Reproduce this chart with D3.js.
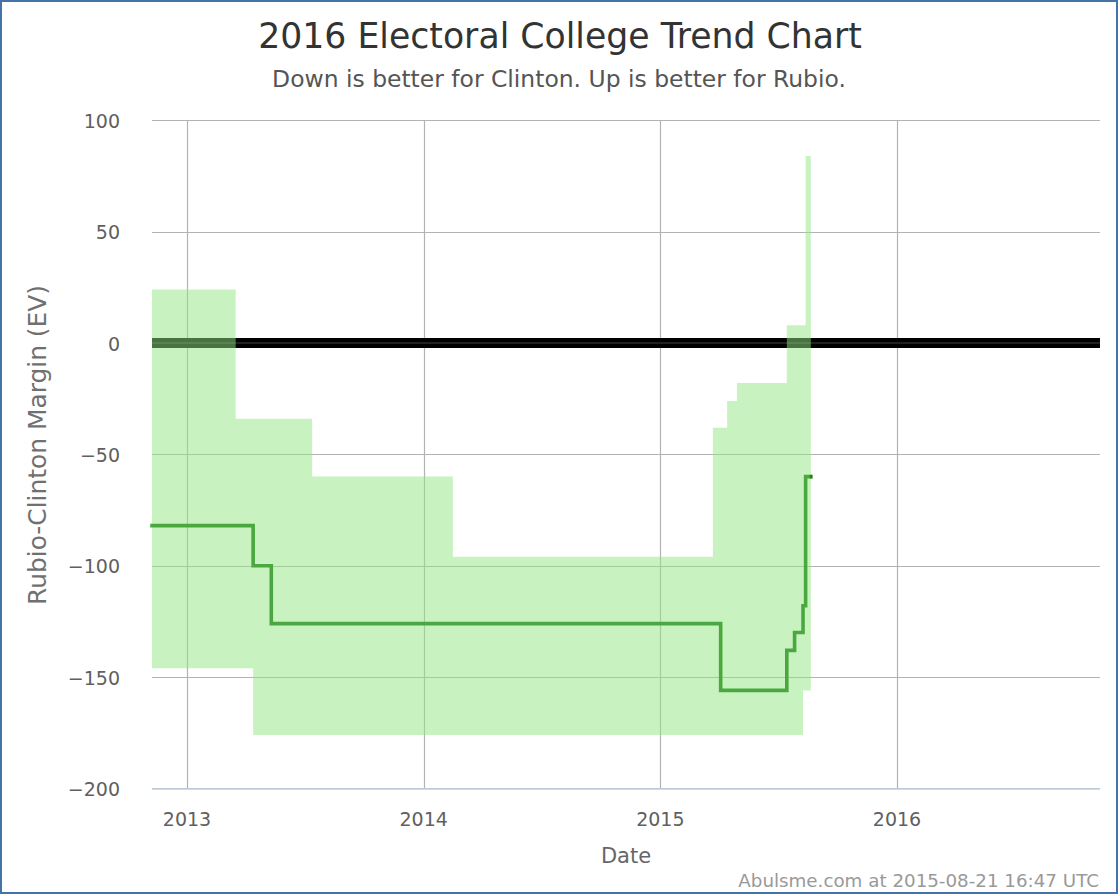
<!DOCTYPE html>
<html>
<head>
<meta charset="utf-8">
<script src="https://cdn.jsdelivr.net/npm/d3@7"></script>
<style>
  html, body { margin: 0; padding: 0; background: #fff; }
  svg { display: block; font-family: "DejaVu Sans", "Lucida Grande", sans-serif; }
</style>
</head>
<body>
<svg id="chart" width="1120" height="896"></svg>
<script>
// ---- data ----
const dates  = ["2012-11-08","2013-03-17","2013-04-13","2013-05-11","2013-07-13","2014-02-15",
                "2015-03-23","2015-04-04","2015-04-14","2015-04-29","2015-07-15","2015-07-27",
                "2015-08-09","2015-08-13","2015-08-21"];
const upper  = [24, -34, -34, -34, -60, -96, -38, -38, -26, -18, 8, 8, 8, 84, 84];
const lower  = [-146, -146, -176, -176, -176, -176, -176, -176, -176, -176, -176, -176, -156, -156, -156];
const margin = [-82, -82, -100, -126, -126, -126, -126, -156, -156, -156, -138, -130, -118, -60, -60];
const yTicks = [-200, -150, -100, -50, 0, 50, 100];
const xTicks = ["2013-01-01", "2014-01-01", "2015-01-01", "2016-01-01"];
const xTickLabels = ["2013", "2014", "2015", "2016"];
const xDomain = ["2012-11-08", "2016-11-09"];
const yDomain = [-200, 100];

const titleText = "2016 Electoral College Trend Chart";
const subtitleText = "Down is better for Clinton. Up is better for Rubio.";
const yTitleText = "Rubio-Clinton Margin (EV)";
const xTitleText = "Date";
const creditText = "Abulsme.com at 2015-08-21 16:47 UTC";

// ---- setup ----
const parse = d3.utcParse("%Y-%m-%d");
const svg = d3.select("#chart");
const plot = { left: 152, right: 1100, top: 120.3, bottom: 788.4 };

const x = d3.scaleUtc().domain(xDomain.map(parse)).range([plot.left, plot.right]);
const y = d3.scaleLinear().domain(yDomain).range([plot.bottom, plot.top]);

const rows = dates.map((d, i) => ({ date: parse(d), hi: upper[i], lo: lower[i], m: margin[i] }));

function fitText(sel, width) {
  const n = sel.node();
  const fs = parseFloat(sel.attr("font-size"));
  const w = n.getComputedTextLength();
  sel.attr("font-size", (fs * width / w).toFixed(2));
}

// border
svg.append("rect").attr("x", 1).attr("y", 1).attr("width", 1116).attr("height", 892)
  .attr("fill", "#fff").attr("stroke", "#4572a7").attr("stroke-width", 2);

// gridlines
const grid = svg.append("g");
grid.selectAll("line.h").data(yTicks).join("line")
  .attr("x1", plot.left).attr("x2", plot.right)
  .attr("y1", d => Math.round(y(d)) + 0.5).attr("y2", d => Math.round(y(d)) + 0.5)
  .attr("stroke", "#b3b3b3").attr("stroke-width", 1.2);
grid.selectAll("line.v").data(xTicks.map(parse)).join("line")
  .attr("y1", plot.top).attr("y2", plot.bottom)
  .attr("x1", d => Math.round(x(d)) + 0.5).attr("x2", d => Math.round(x(d)) + 0.5)
  .attr("stroke", "#b3b3b3").attr("stroke-width", 1.2);

// x axis line
svg.append("line").attr("x1", plot.left).attr("x2", plot.right)
  .attr("y1", y(-200) + 0.5).attr("y2", y(-200) + 0.5)
  .attr("stroke", "#c0d0e0").attr("stroke-width", 1.5);

// zero line
svg.append("line").attr("x1", plot.left).attr("x2", plot.right)
  .attr("y1", y(0)).attr("y2", y(0)).attr("stroke", "#000").attr("stroke-width", 10);
svg.append("line").attr("x1", plot.left).attr("x2", plot.right)
  .attr("y1", y(0)).attr("y2", y(0)).attr("stroke", "#2c2c2c").attr("stroke-width", 1.5);

// band
const area = d3.area().curve(d3.curveStepAfter)
  .x(d => x(d.date)).y0(d => y(d.lo)).y1(d => y(d.hi));
svg.append("path").datum(rows).attr("d", area)
  .attr("fill", "rgba(146,232,130,0.5)");

// line
const line = d3.line().curve(d3.curveStepAfter)
  .x(d => x(d.date)).y(d => y(d.m));
svg.append("path").datum(rows).attr("d", line)
  .attr("fill", "none").attr("stroke", "#4aa83f").attr("stroke-width", 3.6)
  .attr("stroke-linejoin", "miter").attr("stroke-linecap", "square");
const last = rows[rows.length - 1];
svg.append("rect").attr("x", x(last.date) - 1).attr("y", y(last.m) - 1.8)
  .attr("width", 2.5).attr("height", 3.6).attr("fill", "#2f7a28");

// y tick labels
svg.append("g").selectAll("text").data(yTicks).join("text")
  .attr("x", 120).attr("y", d => y(d) + 7.5)
  .attr("text-anchor", "end").attr("font-size", 19).attr("fill", "#606060")
  .text(d => d3.format("")(d).replace("-", "\u2212"));

// x tick labels
svg.append("g").selectAll("text").data(xTicks).join("text")
  .attr("x", d => x(parse(d))).attr("y", 826)
  .attr("text-anchor", "middle").attr("font-size", 19).attr("fill", "#606060")
  .text((d, i) => xTickLabels[i]);

// titles
const t = svg.append("text").attr("x", 560).attr("y", 48).attr("text-anchor", "middle")
  .attr("font-size", 32).attr("fill", "#333").text(titleText);
fitText(t, 604);
const st = svg.append("text").attr("x", 559).attr("y", 87).attr("text-anchor", "middle")
  .attr("font-size", 20).attr("fill", "#555").text(subtitleText);
fitText(st, 574);
const yt = svg.append("text").attr("transform", "translate(46,445) rotate(-90)")
  .attr("text-anchor", "middle").attr("font-size", 20).attr("fill", "#707070").text(yTitleText);
fitText(yt, 320);
svg.append("text").attr("x", 626).attr("y", 863).attr("text-anchor", "middle")
  .attr("font-size", 21).attr("fill", "#666").text(xTitleText);
const cr = svg.append("text").attr("x", 1099).attr("y", 887).attr("text-anchor", "end")
  .attr("font-size", 16).attr("fill", "#999").text(creditText);
fitText(cr, 361);
</script>
</body>
</html>
